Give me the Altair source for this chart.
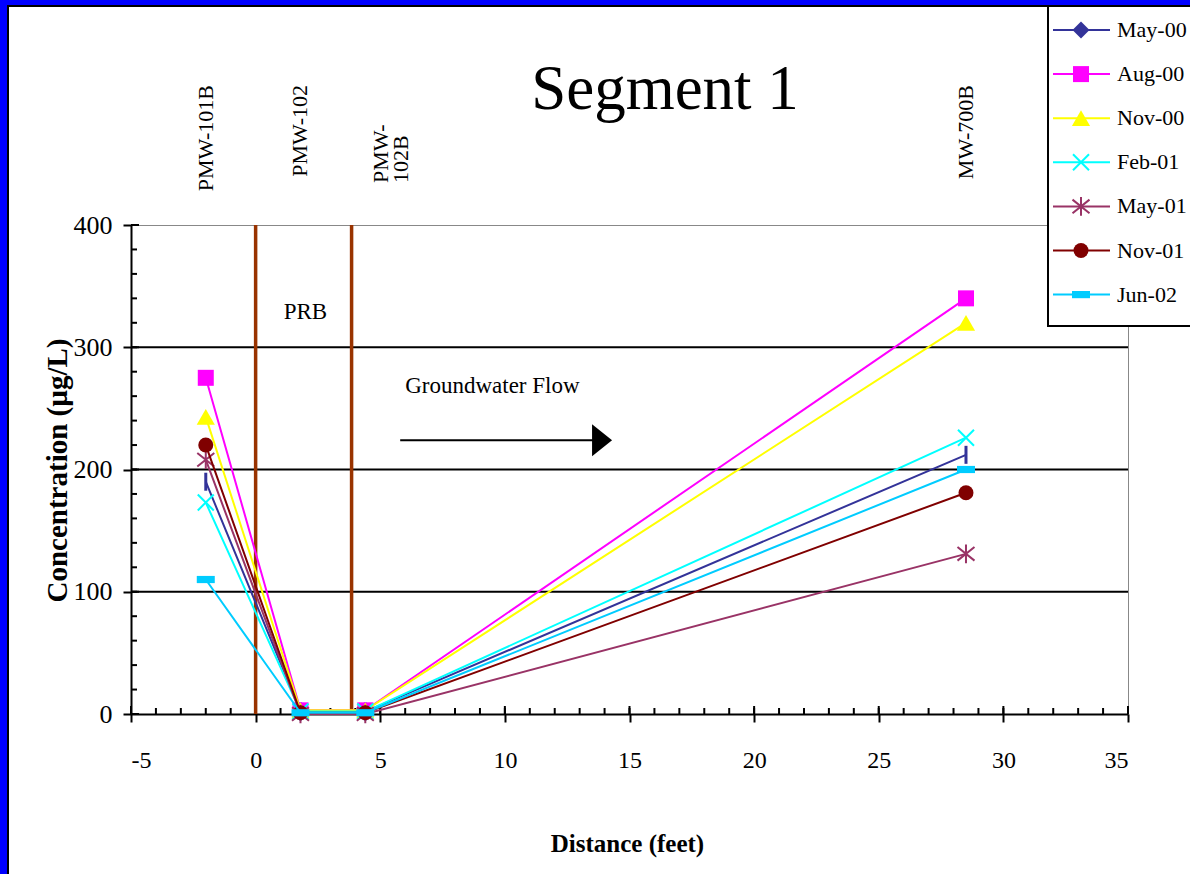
import altair as alt
import pandas as pd

# ---- data -------------------------------------------------------------
distance = [-2.0, 1.8, 4.4, 28.5]            # feet along the flow path
wells = ["PMW-101B", "PMW-102", "PMW-102B", "MW-700B"]

series_names = ["May-00", "Aug-00", "Nov-00", "Feb-01", "May-01", "Nov-01", "Jun-02"]
may00 = [190, 2, 2, 212]
aug00 = [275, 3, 3, 340]
nov00 = [243, 3, 3, 320]
feb01 = [173, 2, 2, 226]
may01 = [208, 0, 0, 131]
nov01 = [220, 1, 1, 181]
jun02 = [110, 1, 1, 200]
series_values = [may00, aug00, nov00, feb01, may01, nov01, jun02]

series_colors = ["#333399", "#FF00FF", "#FFFF00", "#00FFFF", "#993366", "#800000", "#00CCFF"]

prb_walls = [0.0, 3.85]          # permeable reactive barrier faces
gridlines = [100, 200, 300]
x_major = list(range(-5, 36, 5))
x_minor = list(range(-5, 36, 1))
y_major = [0, 100, 200, 300, 400]
y_minor = list(range(0, 401, 20))

# annotation anchors (data units)
prb_label = (2.0, 329)
flow_label = (6.0, 268)
flow_arrow = (5.8, 13.6, 224)     # x start, x end, y
arrow_head_x = 13.9

# ---- styling ------------------------------------------------------------
FONT = "Liberation Serif"
W, H = 997, 489
PAD_L, PAD_T = 131, 225

VLINE = "M0,-1L0,1"
XMARK = "M-1,-1L1,1M1,-1L-1,1"
STAR = "M-1,-0.8L1,0.8M1,-0.8L-1,0.8M0,-1.1L0,1.1"
BAR = "M-1,-0.4L1,-0.4L1,0.4L-1,0.4Z"
HEAD = "M-1,-1.6L1,0L-1,1.6Z"

# (shape, filled, size, strokeWidth) for the plotted markers
marker_styles = [
    (VLINE, False, 324, 3),
    ("square", True, 256, 0),
    ("triangle-up", True, 330, 0),
    (XMARK, False, 256, 2),
    (STAR, False, 289, 2),
    ("circle", True, 225, 0),
    (BAR, True, 324, 0),
]
legend_shapes = ["diamond"] + [m[0] for m in marker_styles[1:]]

x_scale = alt.Scale(domain=[-5, 35], nice=False, zero=False)
y_scale = alt.Scale(domain=[0, 400], nice=False, zero=False)

x_axis = alt.Axis(
    values=x_major, labelExpr="'' + datum.value", grid=False,
    domainColor="black", domainWidth=2, tickColor="black", tickWidth=2, tickSize=8,
    labelFont=FONT, labelFontSize=24, labelColor="black", labelPadding=26,
    title="Distance (feet)", titleFont=FONT, titleFontSize=25, titleFontWeight="bold",
    titleColor="black", titleX=496, titleY=129, titleBaseline="middle", titleAlign="center",
)
y_axis = alt.Axis(
    values=y_major, grid=False,
    domainColor="black", domainWidth=2, tickColor="black", tickWidth=2, tickSize=8,
    labelFont=FONT, labelFontSize=26, labelColor="black", labelPadding=11,
    title="Concentration (µg/L)", titleFont=FONT, titleFontSize=29, titleFontWeight="bold",
    titleColor="black", titleX=-74, titleY=245, titleAngle=270,
    titleBaseline="middle", titleAlign="center",
)


def X(field):
    return alt.X(field, type="quantitative", scale=x_scale, axis=x_axis)


def Y(field):
    return alt.Y(field, type="quantitative", scale=y_scale, axis=y_axis)


one = pd.DataFrame({"k": [0]})
layers = []

# page frame: blue strip with a thin black edge on the left and top
layers.append(alt.Chart(one).mark_rect(color="#0000FF").encode(
    x=alt.value(-PAD_L), x2=alt.value(-PAD_L + 7), y=alt.value(-PAD_T), y2=alt.value(H + 200)))
layers.append(alt.Chart(one).mark_rect(color="#0000FF").encode(
    x=alt.value(-PAD_L), x2=alt.value(1190), y=alt.value(-PAD_T), y2=alt.value(-PAD_T + 5)))
layers.append(alt.Chart(one).mark_rule(color="black", strokeWidth=2).encode(
    x=alt.value(-PAD_L + 8), y=alt.value(-PAD_T + 6), y2=alt.value(H + 200)))
layers.append(alt.Chart(one).mark_rule(color="black", strokeWidth=2).encode(
    x=alt.value(-PAD_L + 7), x2=alt.value(1190), y=alt.value(-PAD_T + 6)))

# horizontal gridlines
layers.append(alt.Chart(pd.DataFrame({"g": gridlines})).mark_rule(color="black", strokeWidth=2).encode(
    y=Y("g"), x=alt.value(0), x2=alt.value(W)))

# inner tick marks
layers.append(alt.Chart(pd.DataFrame({"t": x_minor})).mark_rule(color="black", strokeWidth=2).encode(
    x=X("t"), y=alt.value(H - 6), y2=alt.value(H)))
layers.append(alt.Chart(pd.DataFrame({"t": x_major})).mark_rule(color="black", strokeWidth=2).encode(
    x=X("t"), y=alt.value(H - 8), y2=alt.value(H)))
layers.append(alt.Chart(pd.DataFrame({"t": y_minor})).mark_rule(color="black", strokeWidth=2).encode(
    y=Y("t"), x=alt.value(0), x2=alt.value(6)))
layers.append(alt.Chart(pd.DataFrame({"t": y_major})).mark_rule(color="black", strokeWidth=2).encode(
    y=Y("t"), x=alt.value(0), x2=alt.value(8)))

# PRB walls
walls = pd.DataFrame({"x": prb_walls, "y0": [0] * len(prb_walls), "y1": [400] * len(prb_walls)})
layers.append(alt.Chart(walls).mark_rule(color="#993300", strokeWidth=3.5).encode(
    x=X("x"), y=Y("y0"), y2="y1"))

# annotations
layers.append(alt.Chart(pd.DataFrame({"x": [prb_label[0]], "y": [prb_label[1]], "t": ["PRB"]}))
              .mark_text(font=FONT, fontSize=23, color="black", align="center", baseline="middle")
              .encode(x=X("x"), y=Y("y"), text="t:N"))
layers.append(alt.Chart(pd.DataFrame({"x": [flow_label[0]], "y": [flow_label[1]], "t": ["Groundwater Flow"]}))
              .mark_text(font=FONT, fontSize=23, color="black", align="left", baseline="middle")
              .encode(x=X("x"), y=Y("y"), text="t:N"))
layers.append(alt.Chart(pd.DataFrame({"x": [flow_arrow[0]], "x2": [flow_arrow[1]], "y": [flow_arrow[2]]}))
              .mark_rule(color="black", strokeWidth=2)
              .encode(x=X("x"), x2="x2", y=Y("y")))
layers.append(alt.Chart(pd.DataFrame({"x": [arrow_head_x], "y": [flow_arrow[2]]}))
              .mark_point(shape=HEAD, filled=True, color="black", size=400, opacity=1)
              .encode(x=X("x"), y=Y("y")))

# well labels
top_wells = pd.DataFrame({"x": [distance[i] for i in (0, 1, 3)], "w": [wells[i] for i in (0, 1, 3)]})
layers.append(alt.Chart(top_wells).mark_text(
    font=FONT, fontSize=22, color="black", angle=270, align="right", baseline="middle")
    .encode(x=X("x"), y=alt.value(-140), text="w:N"))
layers.append(alt.Chart(pd.DataFrame({"x": [distance[2]], "w": [wells[2][:4] + "\n" + wells[2][4:]]}))
              .mark_text(font=FONT, fontSize=22, color="black", angle=270, align="left",
                         baseline="middle", lineBreak="\n", lineHeight=20, dy=16)
              .encode(x=X("x"), y=alt.value(-42), text="w:N"))

# series lines and markers
for name, vals, col, (shape, filled, size, sw) in zip(series_names, series_values, series_colors, marker_styles):
    df = pd.DataFrame({"distance": distance, "conc": vals, "series": name})
    layers.append(alt.Chart(df).mark_line(color=col, strokeWidth=2).encode(x=X("distance"), y=Y("conc")))
    if filled:
        pt = alt.Chart(df).mark_point(shape=shape, filled=True, color=col, size=size, opacity=1)
    else:
        pt = alt.Chart(df).mark_point(shape=shape, filled=False, color=col, size=size,
                                      strokeWidth=sw, opacity=1)
    layers.append(pt.encode(x=X("distance"), y=Y("conc")))

# title
layers.append(alt.Chart(pd.DataFrame({"t": ["Segment 1"]})).mark_text(
    font=FONT, fontSize=63, color="black", align="center", baseline="middle")
    .encode(x=alt.value(534), y=alt.value(-135), text="t:N"))

# legend box
layers.append(alt.Chart(one).mark_rect(fill="white", stroke="black", strokeWidth=2).encode(
    x=alt.value(1048 - PAD_L), x2=alt.value(1100), y=alt.value(-PAD_T + 6), y2=alt.value(326 - PAD_T)))
for i, (name, col, lshape, (_, filled, size, sw)) in enumerate(
        zip(series_names, series_colors, legend_shapes, marker_styles)):
    ly = 30 + 44.1 * i - PAD_T
    if i == 0:
        filled, size = True, 289
    row = pd.DataFrame({"t": [name]})
    layers.append(alt.Chart(row).mark_rule(color=col, strokeWidth=2).encode(
        x=alt.value(1053 - PAD_L), x2=alt.value(1110 - PAD_L), y=alt.value(ly)))
    if filled:
        lp = alt.Chart(row).mark_point(shape=lshape, filled=True, color=col, size=size, opacity=1)
    else:
        lp = alt.Chart(row).mark_point(shape=lshape, filled=False, color=col, size=size,
                                       strokeWidth=sw, opacity=1)
    layers.append(lp.encode(x=alt.value(1081 - PAD_L), y=alt.value(ly)))
    layers.append(alt.Chart(row).mark_text(
        font=FONT, fontSize=22, color="black", align="left", baseline="middle")
        .encode(x=alt.value(1117 - PAD_L), y=alt.value(ly), text="t:N"))

chart = alt.layer(*layers).properties(
    width=W, height=H,
    autosize=alt.AutoSizeParams(type="none"),
    padding={"left": PAD_L, "top": PAD_T, "right": 1190 - PAD_L - W, "bottom": 874 - PAD_T - H},
    background="white",
).configure_view(stroke="#888888", strokeWidth=1)

chart.save("out.html", embed_options={"renderer": "svg", "actions": False})
